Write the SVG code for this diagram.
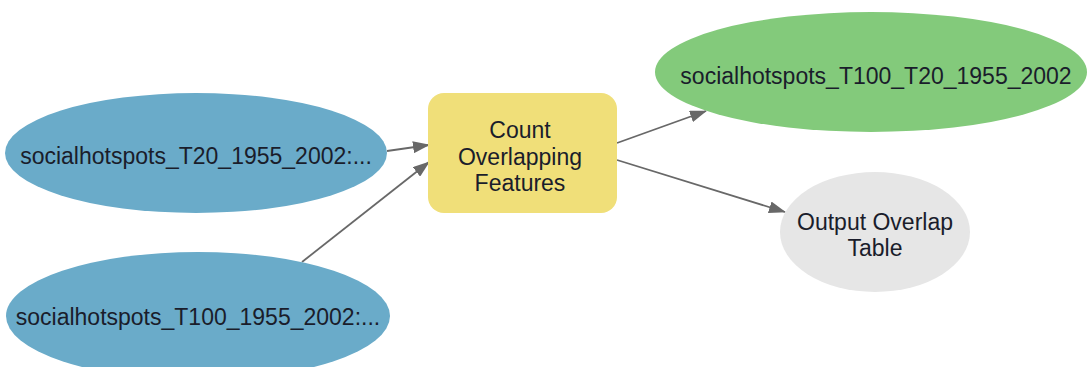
<svg xmlns="http://www.w3.org/2000/svg" width="1087" height="367" viewBox="0 0 1087 367">
  <style>
    .lbl { font-family: "Liberation Sans", Arial, sans-serif; font-size: 23px; fill: #1a1d2b; text-anchor: middle; dominant-baseline: central; }
    .edge { stroke: #686868; stroke-width: 1.8; fill: none; marker-end: url(#arrow); }
    .input { fill: #6aabc9; }
    .tool { fill: #f0df79; }
    .output { fill: #83ca7b; }
    .table { fill: #e6e6e6; }
  </style>
  <defs>
    <marker id="arrow" markerWidth="17" markerHeight="12" refX="16" refY="6" orient="auto" markerUnits="userSpaceOnUse">
      <path d="M0,0 L17,6 L0,12 Z" fill="#686868"/>
    </marker>
  </defs>
  <rect width="1087" height="367" fill="#ffffff"/>

  <g id="connectors">
    <line class="edge" x1="387" y1="151" x2="429" y2="145"/>
    <line class="edge" x1="302" y1="262" x2="429" y2="162"/>
    <line class="edge" x1="617" y1="143" x2="706" y2="111"/>
    <line class="edge" x1="617" y1="160" x2="785" y2="212"/>
  </g>

  <g id="input-t20">
    <ellipse class="input" cx="196" cy="153" rx="191" ry="60"/>
    <text class="lbl" x="196" y="156">socialhotspots_T20_1955_2002:...</text>
  </g>

  <g id="input-t100">
    <ellipse class="input" cx="198" cy="316" rx="192" ry="64"/>
    <text class="lbl" x="198" y="317">socialhotspots_T100_1955_2002:...</text>
  </g>

  <g id="count-overlapping">
    <rect class="tool" x="428" y="93" width="189" height="120" rx="16" ry="16"/>
    <text class="lbl" x="520" y="130">Count</text>
    <text class="lbl" x="520" y="157">Overlapping</text>
    <text class="lbl" x="520" y="183">Features</text>
  </g>

  <g id="output-features">
    <ellipse class="output" cx="871" cy="72" rx="216" ry="60"/>
    <text class="lbl" x="876" y="76">socialhotspots_T100_T20_1955_2002</text>
  </g>

  <g id="output-table">
    <ellipse class="table" cx="875" cy="232" rx="95" ry="60"/>
    <text class="lbl" x="875" y="222">Output Overlap</text>
    <text class="lbl" x="875" y="248">Table</text>
  </g>
</svg>
